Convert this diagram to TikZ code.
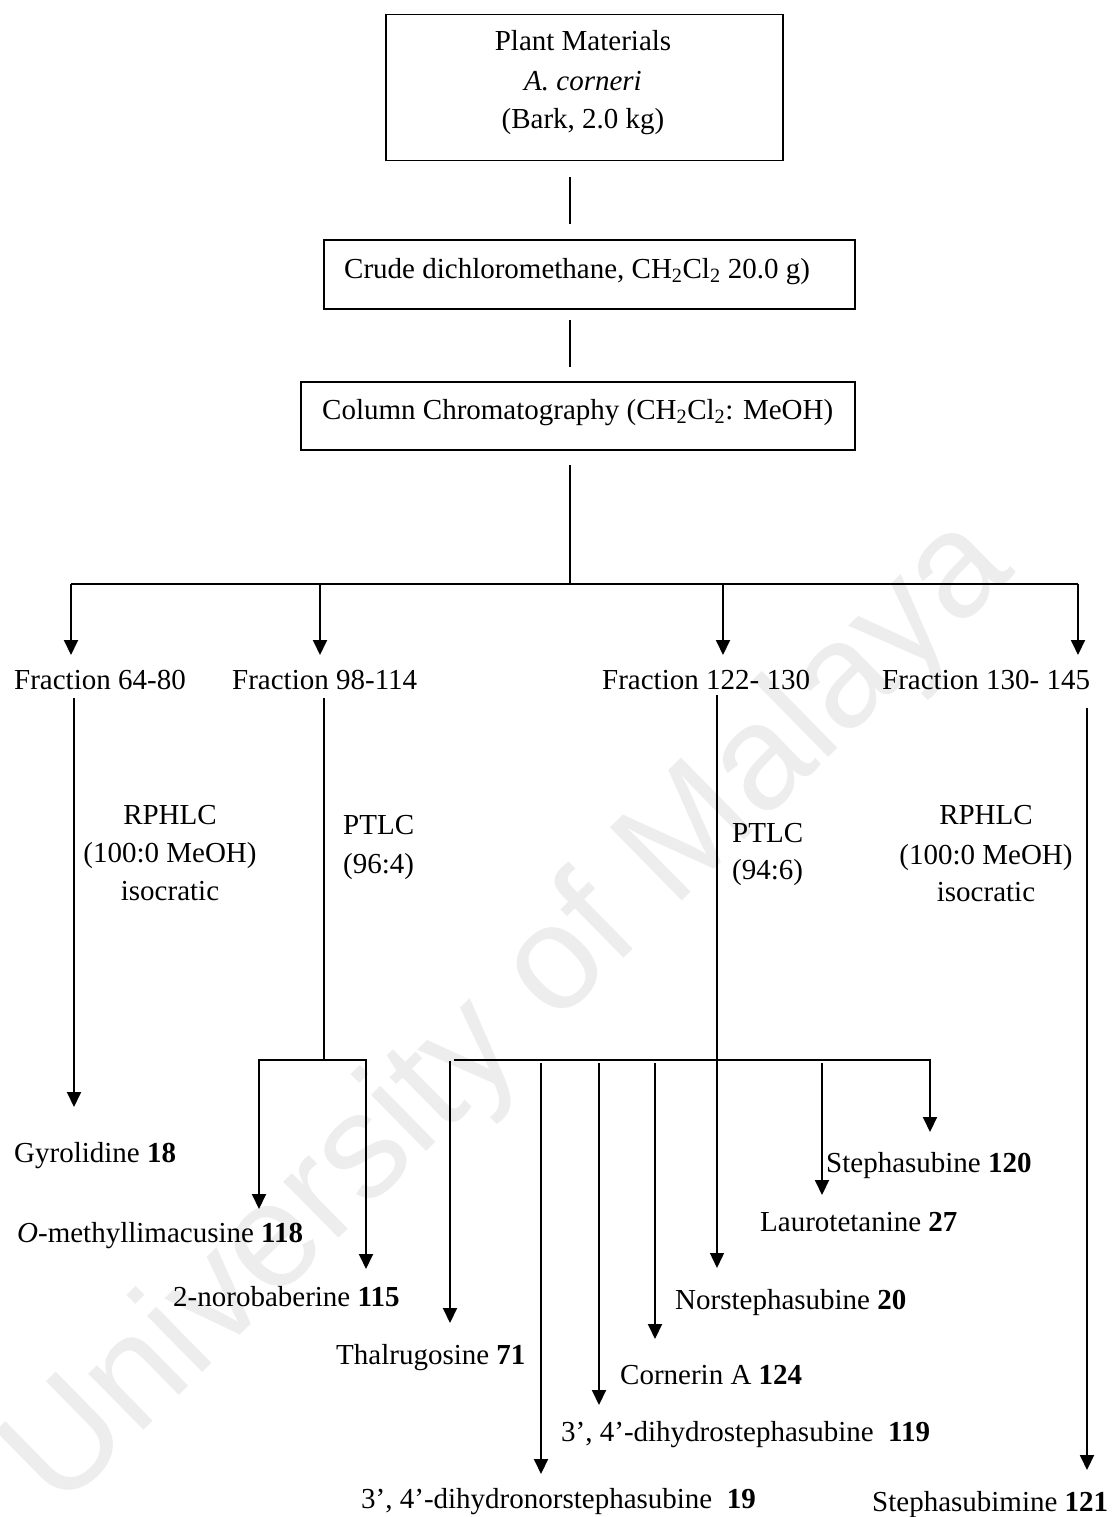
\documentclass[tikz,border=0pt]{standalone}
\usepackage{fontspec}
\setmainfont{Liberation Serif}
\setsansfont{Liberation Sans}
\usetikzlibrary{arrows.meta}
\begin{document}
\begin{tikzpicture}[x=1pt,y=-1pt,
  lbl/.style={inner sep=0pt, anchor=base west, font=\fontsize{29}{34}\selectfont},
  clbl/.style={inner sep=0pt, anchor=base, font=\fontsize{29}{34}\selectfont},
  link/.style={line width=1.3pt},
  flow/.style={line width=1.9pt, -{Triangle[width=14pt,length=15pt]}},
  thinflow/.style={line width=1.3pt, -{Triangle[width=14pt,length=15pt]}},
  boxframe/.style={draw, line width=1.5pt, inner sep=0pt, anchor=north west}]
\useasboundingbox (0,0) rectangle (1112,1517);

% watermark
\node[rotate=44.5, text=black!7, inner sep=0pt,
      font=\sffamily\fontsize{149}{149}\selectfont] (wm) at (511,1015) {University of Malaya};

% ---- boxes ----
\node[boxframe, minimum width=397pt, minimum height=146pt] (plant) at (385,14) {};
\node[clbl] (plantA) at (583,51) {Plant Materials};
\node[clbl] (plantB) at (583,91) {\textit{A. corneri}};
\node[clbl] (plantC) at (583,129) {(Bark, 2.0 kg)};

\node[boxframe, minimum width=531pt, minimum height=69pt] (crude) at (323,239) {};
\node[lbl] (crudeT) at (344,278) {Crude dichloromethane, CH\textsubscript{2}Cl\textsubscript{2} 20.0 g)};

\node[boxframe, minimum width=554pt, minimum height=68pt] (column) at (300,381) {};
\node[lbl] (columnT) at (322,419) {Column Chromatography (CH\textsubscript{2}Cl\textsubscript{2}: MeOH)};

% ---- trunk ----
\coordinate (t1a) at (570,177); \coordinate (t1b) at (570,224);
\coordinate (t2a) at (570,320); \coordinate (t2b) at (570,367);
\coordinate (t3a) at (570,465); \coordinate (bus) at (570,584);
\coordinate (busL) at (71,584); \coordinate (busR) at (1078,584);
\draw[link] (t1a) -- (t1b);
\draw[link] (t2a) -- (t2b);
\draw[link] (t3a) -- (bus);
\draw[link] (busL) -- (busR);

% ---- fractions ----
\node[lbl] (fA) at (14,689) {Fraction 64-80};
\node[lbl] (fB) at (232,689) {Fraction 98-114};
\node[lbl] (fC) at (602,689) {Fraction 122- 130};
\node[lbl] (fD) at (882,689) {Fraction 130- 145};

\coordinate (aA) at (71,655);  \coordinate (bA) at (320,584); \coordinate (aB) at (320,655);
\coordinate (bC) at (723,584); \coordinate (aC) at (723,655); \coordinate (aD) at (1078,655);
\draw[flow] (busL) -- (aA);
\draw[flow] (bA) -- (aB);
\draw[flow] (bC) -- (aC);
\draw[flow] (busR) -- (aD);

% ---- separation conditions ----
\node[clbl] (rpA1) at (170,824) {RPHLC};
\node[clbl] (rpA2) at (170,862) {(100:0 MeOH)};
\node[clbl] (rpA3) at (170,900) {isocratic};
\node[lbl] (ptB1) at (343,834) {PTLC};
\node[lbl] (ptB2) at (343,873) {(96:4)};
\node[lbl] (ptC1) at (732,842) {PTLC};
\node[lbl] (ptC2) at (732,879) {(94:6)};
\node[clbl] (rpD1) at (986,824) {RPHLC};
\node[clbl] (rpD2) at (986,864) {(100:0 MeOH)};
\node[clbl] (rpD3) at (986,901) {isocratic};

% ---- compounds ----
\node[lbl] (gyr) at (14,1162) {Gyrolidine \textbf{18}};
\node[lbl] (ometh) at (17,1242) {\textit{O}-methyllimacusine \textbf{118}};
\node[lbl] (norob) at (173,1306) {2-norobaberine \textbf{115}};
\node[lbl] (thal) at (336,1364) {Thalrugosine \textbf{71}};
\node[lbl] (dhns) at (361,1508) {3’, 4’-dihydronorstephasubine\ \ \textbf{19}};
\node[lbl] (dhs) at (561,1441) {3’, 4’-dihydrostephasubine\ \ \textbf{119}};
\node[lbl] (corn) at (620,1384) {Cornerin A \textbf{124}};
\node[lbl] (nors) at (675,1309) {Norstephasubine \textbf{20}};
\node[lbl] (laur) at (760,1231) {Laurotetanine \textbf{27}};
\node[lbl] (steph) at (826,1172) {Stephasubine \textbf{120}};
\node[lbl] (stim) at (872,1511) {Stephasubimine \textbf{121}};

% Fraction 64-80 -> Gyrolidine
\coordinate (sA) at (74,698); \coordinate (eA) at (74,1107);
\draw[flow] (sA) -- (eA);

% Fraction 98-114 -> bracket
\coordinate (sB) at (324,698); \coordinate (kB) at (324,1060);
\coordinate (kBl) at (259,1060); \coordinate (kBr) at (366,1060);
\coordinate (eOm) at (259,1209); \coordinate (eNo) at (366,1269);
\draw[link] (sB) -- (kB);
\draw[flow] (kB) -- (kBl) -- (eOm);
\draw[flow] (kB) -- (kBr) -- (eNo);

% Fraction 122-130 -> branch bar
\coordinate (sC) at (717,695); \coordinate (eNs) at (717,1268);
\draw[thinflow] (sC) -- (eNs);
\coordinate (barL) at (454,1060); \coordinate (barR) at (930,1060);
\coordinate (eSt) at (930,1132);
\draw[flow] (barL) -- (barR) -- (eSt);
\coordinate (vTh) at (450,1061); \coordinate (eTh) at (450,1323);
\coordinate (vDn) at (541,1063); \coordinate (eDn) at (541,1474);
\coordinate (vDs) at (599,1063); \coordinate (eDs) at (599,1405);
\coordinate (vCo) at (655,1063); \coordinate (eCo) at (655,1339);
\coordinate (vLa) at (822,1063); \coordinate (eLa) at (822,1195);
\draw[flow] (vTh) -- (eTh);
\draw[flow] (vDn) -- (eDn);
\draw[flow] (vDs) -- (eDs);
\draw[flow] (vCo) -- (eCo);
\draw[flow] (vLa) -- (eLa);

% Fraction 130-145 -> Stephasubimine
\coordinate (sD) at (1087,708); \coordinate (eD) at (1087,1470);
\draw[flow] (sD) -- (eD);
\end{tikzpicture}
\end{document}
